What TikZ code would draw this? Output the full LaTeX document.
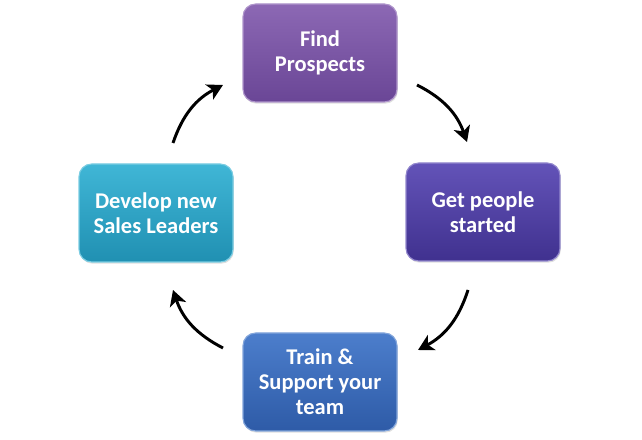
\documentclass[tikz,border=0pt]{standalone}
\usepackage{fontspec}
\setmainfont{Carlito}
\usetikzlibrary{arrows.meta,shadows}

\definecolor{findtop}{HTML}{8C68B4}
\definecolor{findbot}{HTML}{6A4696}
\definecolor{gettop}{HTML}{6353B8}
\definecolor{getbot}{HTML}{40318F}
\definecolor{traintop}{HTML}{4C7ECC}
\definecolor{trainbot}{HTML}{2E5BA7}
\definecolor{devtop}{HTML}{40B6D6}
\definecolor{devbot}{HTML}{2090B2}

\begin{document}
\begin{tikzpicture}[
    stepbox/.style={rounded corners=9pt, minimum width=3.85cm, minimum height=2.45cm,
        align=center, text=white, font=\fontsize{16}{17.7}\selectfont\bfseries,
        line width=0.8pt, drop shadow={opacity=0.25, shadow xshift=0.6pt, shadow yshift=-1.2pt}},
    cycarrow/.style={line width=2.1pt, -{Stealth[length=11pt,width=12pt,inset=3pt]}, bend left=22}
  ]
  \useasboundingbox (0,0) rectangle (16.05,11);
  % the four steps
  \node[stepbox, top color=findtop, bottom color=findbot, draw=findtop!70!white] (find) at (8.0,9.675) {Find\\Prospects};
  \node[stepbox, top color=gettop, bottom color=getbot, draw=gettop!70!white] (get) at (12.075,5.7) {Get people\\started};
  \node[stepbox, top color=traintop, bottom color=trainbot, draw=traintop!70!white] (train) at (8.0,1.45) {Train \&\\Support your\\team};
  \node[stepbox, top color=devtop, bottom color=devbot, draw=devtop!70!white] (develop) at (3.9,5.675) {Develop new\\Sales Leaders};
  % arrow ends
  \coordinate (a1s) at (4.325,7.425);
  \coordinate (a1e) at (5.575,8.875);
  \coordinate (a2s) at (10.425,8.875);
  \coordinate (a2e) at (11.675,7.45);
  \coordinate (a3s) at (11.7,3.75);
  \coordinate (a3e) at (10.45,2.25);
  \coordinate (a4s) at (5.575,2.3);
  \coordinate (a4e) at (4.325,3.75);
  \foreach \s/\e in {a1s/a1e, a2s/a2e, a3s/a3e, a4s/a4e}
    \draw[cycarrow] (\s) to (\e);
\end{tikzpicture}
\end{document}
